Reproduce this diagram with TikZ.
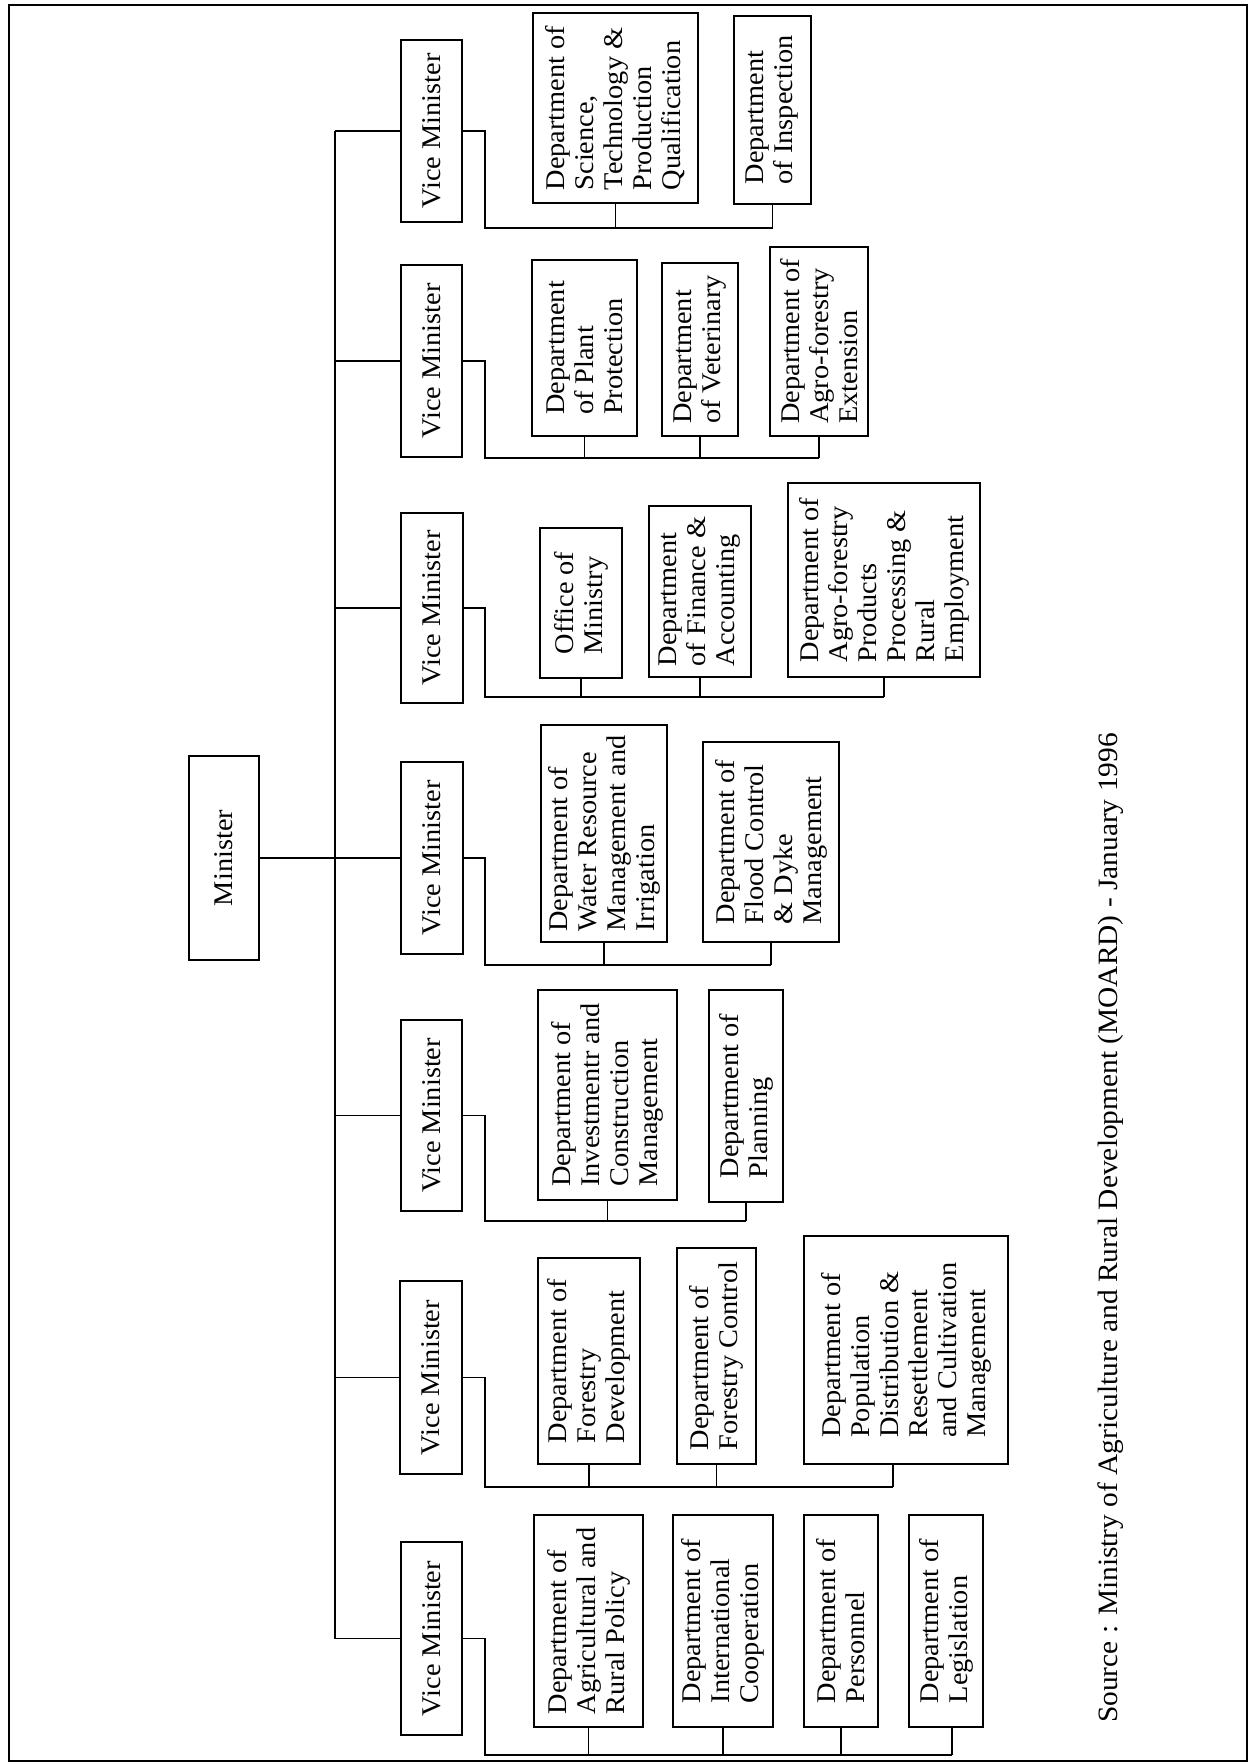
\documentclass[tikz,border=0pt]{standalone}
\usepackage{fontspec}
\setmainfont{Liberation Serif}[FakeStretch=1.05]
\begin{document}
\begin{tikzpicture}[x=1pt,y=-1pt,
  bx/.style={draw, line width=1.8pt, rotate=90, align=left, inner sep=0pt,
    font=\fontsize{27}{29}\selectfont},
  link/.style={line width=1.4pt},
  trunkline/.style={line width=2.2pt}]
\newcommand\orgbox[6]{\node[bx, minimum width={(#5-#4)*1pt}, minimum height={(#3-#2)*1pt}] (#1) at ({(#2+#3)/2},{(#4+#5)/2}) {#6};}
\fill[white] (0,0) rectangle (1252,1764);
\useasboundingbox (0,0) rectangle (1252,1764);
\draw[line width=2pt] (9,5) rectangle (1247,1761);

% Minister and vice ministers
\orgbox{min}{189}{259}{756}{960}{Minister}
\orgbox{vm1}{401}{462}{40}{222}{Vice Minister}
\orgbox{vm2}{401}{462}{265}{457}{Vice Minister}
\orgbox{vm3}{401}{463}{513}{703}{Vice Minister}
\orgbox{vm4}{401}{463}{762}{954}{Vice Minister}
\orgbox{vm5}{401}{462}{1020}{1211}{Vice Minister}
\orgbox{vm6}{400}{462}{1281}{1474}{Vice Minister}
\orgbox{vm7}{401}{462}{1542}{1735}{Vice Minister}

% group 1
\orgbox{d11}{533}{698}{13}{203}{Department of\\Science,\\Technology \&\\Production\\Qualification}
\orgbox{d12}{734}{811}{16}{204}{Department\\of Inspection}
% group 2
\orgbox{d21}{532}{637}{260}{436}{Department\\of Plant\\Protection}
\orgbox{d22}{662}{738}{263}{436}{Department\\of Veterinary}
\orgbox{d23}{770}{868}{247}{436}{Department of\\Agro-forestry\\Extension}
% group 3
\orgbox{d31}{540}{622}{528}{678}{Office of\\Ministry}
\orgbox{d32}{649}{751}{506}{677}{Department\\of Finance \&\\Accounting}
\orgbox{d33}{788}{980}{483}{677}{Department of\\Agro-forestry\\Products\\Processing \&\\Rural\\Employment}
% group 4
\orgbox{d41}{541}{667}{725}{942}{Department of\\Water Resource\\Management and\\Irrigation}
\orgbox{d42}{703}{839}{742}{942}{Department of\\Flood Control\\\& Dyke\\Management}
% group 5
\orgbox{d51}{538}{677}{990}{1200}{Department of\\Investmentr and\\Construction\\Management}
\orgbox{d52}{709}{783}{990}{1202}{Department of\\Planning}
% group 6
\orgbox{d61}{538}{640}{1258}{1464}{Department of\\Forestry\\Development}
\orgbox{d62}{677}{756}{1248}{1464}{Department of\\Forestry Control}
\orgbox{d63}{804}{1008}{1236}{1464}{Department of\\Population\\Distribution \&\\Resettlement\\and Cultivation\\Management}
% group 7
\orgbox{d71}{534}{643}{1515}{1727}{Department of\\Agricultural and\\Rural Policy}
\orgbox{d72}{673}{773}{1515}{1727}{Department of\\International\\Cooperation}
\orgbox{d73}{804}{878}{1515}{1727}{Department of\\Personnel}
\orgbox{d74}{909}{983}{1515}{1727}{Department of\\Legislation}

% source
\node[rotate=90, anchor=base west, inner sep=0pt, font=\fontsize{28}{30}\selectfont] (src) at (1117,1723)
  {Source : Ministry of Agriculture and Rural Development (MOARD) - January 1996};

% trunk
\coordinate (tr) at (335,0);
\draw[trunkline] (vm1.north -| tr) -- (vm7.north -| tr);
\draw[link] (min.south) -- (min.south -| tr);
\foreach \v in {vm1,vm2,vm3,vm4,vm5,vm6,vm7}
  \draw[link] (\v.north -| tr) -- (\v.north);

% group connectors
\coordinate (b1) at (485,228);
\coordinate (b2) at (485,458);
\coordinate (b3) at (485,697);
\coordinate (b4) at (485,965);
\coordinate (b5) at (485,1221);
\coordinate (b6) at (485,1487);
\coordinate (b7) at (485,1755);

\draw[link] (vm1.south) -| (b1) -- (b1 -| d12.west);
\foreach \d in {d11,d12} \draw[link] (\d.west) -- (\d.west |- b1);

\draw[link] (vm2.south) -| (b2) -- (b2 -| d23.west);
\foreach \d in {d21,d22,d23} \draw[link] (\d.west) -- (\d.west |- b2);

\draw[link] (vm3.south) -| (b3) -- (b3 -| d33.west);
\foreach \d in {d31,d32,d33} \draw[link] (\d.west) -- (\d.west |- b3);

\draw[link] (vm4.south) -| (b4) -- (b4 -| d42.west);
\foreach \d in {d41,d42} \draw[link] (\d.west) -- (\d.west |- b4);

\draw[link] (vm5.south) -| (b5) -- (b5 -| d52.west);
\foreach \d in {d51,d52} \draw[link] (\d.west) -- (\d.west |- b5);

\coordinate (p63) at ([xshift=-13pt]d63.west);
\draw[link] (vm6.south) -| (b6) -- (b6 -| p63);
\foreach \d in {d61,d62} \draw[link] (\d.west) -- (\d.west |- b6);
\draw[link] (p63) -- (p63 |- b6);

\coordinate (p74) at ([xshift=6pt]d74.west);
\draw[link] (vm7.south) -| (b7) -- (b7 -| p74);
\foreach \d in {d71,d72,d73} \draw[link] (\d.west) -- (\d.west |- b7);
\draw[link] (p74) -- (p74 |- b7);
\end{tikzpicture}
\end{document}
